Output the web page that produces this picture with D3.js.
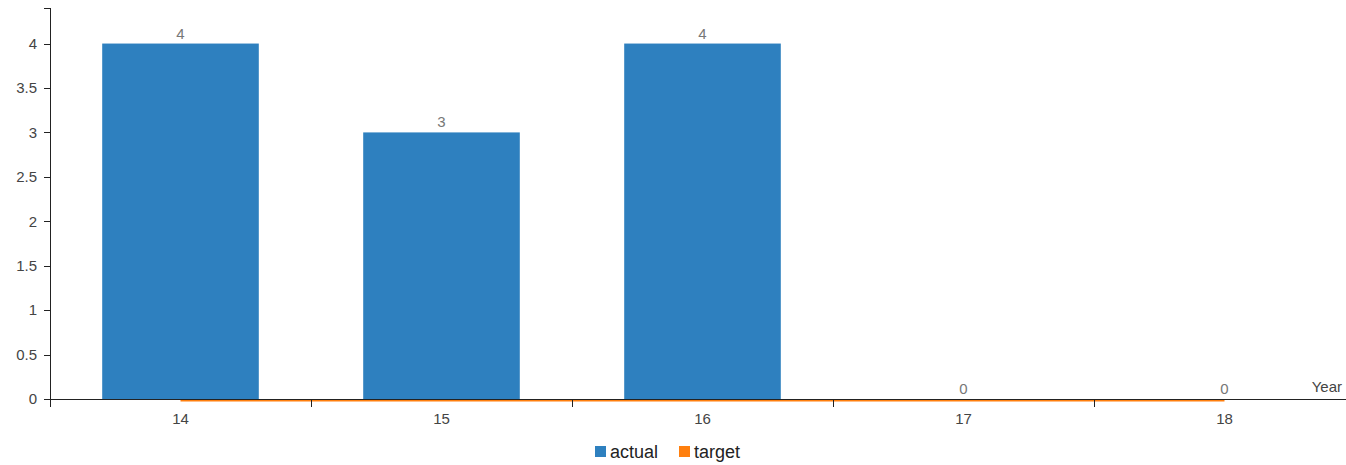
<!DOCTYPE html>
<html>
<head>
<meta charset="utf-8">
<script src="https://cdn.jsdelivr.net/npm/d3@7/dist/d3.min.js"></script>
<style>
  html, body { margin: 0; padding: 0; background: #fff; }
  svg { display: block; font-family: "Liberation Sans", Arial, sans-serif; }
  .axis path, .axis line { stroke: #222; shape-rendering: crispEdges; }
  .axis text { fill: #444; font-size: 15px; }
</style>
</head>
<body>
<svg id="chart" width="1346" height="465"></svg>
<script>
// Yearly figures: actual results against target
const years = ["14", "15", "16", "17", "18"];
const actual = [4, 3, 4, 0, 0];
const target = [0, 0, 0, 0, 0];
const yTicks = [0, 0.5, 1, 1.5, 2, 2.5, 3, 3.5, 4];
const seriesNames = ["actual", "target"];
const seriesColors = ["#2e80bf", "#ff7f0e"];

const svg = d3.select("#chart");
const plotLeft = 50, plotTop = 8, plotBottom = 399, step = 261;

const x = d3.scaleBand()
  .domain(years)
  .range([plotLeft, plotLeft + step * years.length])
  .paddingInner(0).paddingOuter(0);

const y = d3.scaleLinear()
  .domain([0, d3.max(actual) * 1.1])
  .range([plotBottom, plotTop]);

const color = d3.scaleOrdinal().domain(seriesNames).range(seriesColors);

// bars
const barW = x.bandwidth() * 0.6;
svg.append("g").selectAll("rect")
  .data(years.map((k, i) => ({ k, v: actual[i] })))
  .join("rect")
  .attr("x", d => x(d.k) + (x.bandwidth() - barW) / 2)
  .attr("width", barW)
  .attr("y", d => y(d.v))
  .attr("height", d => y(0) - y(d.v))
  .attr("fill", color("actual"));

// target line
const line = d3.line()
  .x((d, i) => x(years[i]) + x.bandwidth() / 2)
  .y(d => y(d));
svg.append("path")
  .datum(target)
  .attr("d", line)
  .attr("transform", "translate(0,1.5)")
  .attr("fill", "none")
  .attr("stroke", color("target"))
  .attr("stroke-width", 2);

// value labels above bars
svg.append("g").selectAll("text")
  .data(years.map((k, i) => ({ k, v: actual[i] })))
  .join("text")
  .attr("x", d => x(d.k) + x.bandwidth() / 2)
  .attr("y", d => y(d.v) - 5)
  .attr("text-anchor", "middle")
  .attr("font-size", 15)
  .attr("fill", "#777")
  .text(d => d.v);

// x axis: ticks sit on category boundaries, labels at centres
const xg = svg.append("g")
  .attr("class", "axis")
  .attr("transform", `translate(0,${plotBottom})`);
xg.call(d3.axisBottom(x).tickSize(0).tickPadding(14));
xg.selectAll(".tick text").attr("dy", "0.71em");
xg.selectAll(".boundary")
  .data(d3.range(years.length + 1))
  .join("line")
  .attr("class", "boundary")
  .attr("x1", i => x.range()[0] + i * x.step() + 0.5)
  .attr("x2", i => x.range()[0] + i * x.step() + 0.5)
  .attr("y1", 0).attr("y2", 8);

xg.append("text")
  .attr("x", 1342)
  .attr("y", -7)
  .attr("text-anchor", "end")
  .attr("fill", "#444")
  .attr("font-size", 15)
  .text("Year");

// y axis
const yg = svg.append("g")
  .attr("class", "axis")
  .attr("transform", `translate(${plotLeft},0)`);
yg.call(d3.axisLeft(y).tickValues(yTicks).tickSize(6).tickPadding(7)
  .tickFormat(d3.format("~g")));

// legend
const legend = svg.append("g").attr("transform", "translate(595,446)");
const items = legend.selectAll("g")
  .data(seriesNames)
  .join("g")
  .attr("transform", (d, i) => `translate(${i * 84},0)`);
items.append("rect")
  .attr("width", 11).attr("height", 11)
  .attr("fill", d => color(d));
items.append("text")
  .attr("x", 15).attr("y", 11.5)
  .attr("font-size", 18)
  .attr("fill", "#222")
  .text(d => d);
</script>
</body>
</html>
